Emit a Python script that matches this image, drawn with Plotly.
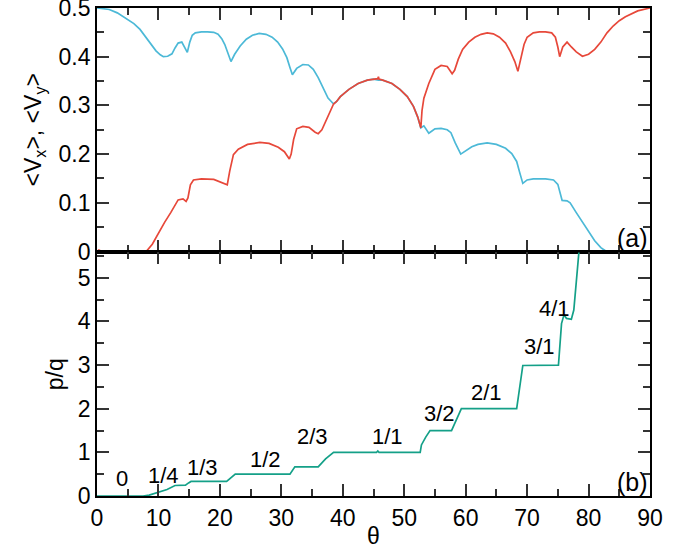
import plotly.graph_objects as go
from plotly.subplots import make_subplots

# ---- data ----
vy_theta = [0, 2, 3.3, 4.5, 6, 7, 8, 8.8, 9.6, 10.3, 10.8, 11.5, 12.2, 12.7, 13.2, 13.8, 14.4, 14.7,
            15.1, 15.5, 16, 17, 18, 19, 19.7, 20.3, 20.8, 21.3, 21.8, 22.4, 23.3, 24.3, 25.3, 26.4,
            27.5, 28.5, 29.4, 30.2, 30.9, 31.4, 31.8, 32.5, 33.5, 34.4, 35.2, 36, 36.8, 37.6, 38.5,
            39.0, 39.6, 41, 42.5, 44, 45, 45.8, 46.5, 48, 49.3, 50.5, 51.5, 52.2, 52.7,
            53.2, 54, 55, 56, 57, 57.6, 58.3, 59.2, 60, 61, 62, 63.5, 65, 66.5, 67.5, 68.3, 68.8,
            69.3, 70, 71, 73, 74.3, 75, 75.4, 75.7, 76.5, 77, 78, 79, 80, 81, 82, 82.8, 83.5, 90]
vy_vals = [0.500, 0.497, 0.490, 0.481, 0.468, 0.456, 0.440, 0.425, 0.412, 0.404, 0.400, 0.401, 0.406,
           0.418, 0.428, 0.430, 0.415, 0.409, 0.430, 0.444, 0.449, 0.451, 0.451, 0.450, 0.446, 0.437,
           0.425, 0.408, 0.390, 0.405, 0.422, 0.436, 0.444, 0.448, 0.446, 0.440, 0.430, 0.416, 0.398,
           0.378, 0.363, 0.376, 0.384, 0.383, 0.374, 0.357, 0.335, 0.315, 0.303,
           0.308, 0.318, 0.333, 0.345, 0.352, 0.354, 0.352, 0.352, 0.345, 0.333, 0.318, 0.298, 0.276,
           0.254, 0.258, 0.243, 0.252, 0.253, 0.250, 0.244, 0.223, 0.200, 0.207, 0.215, 0.220, 0.223,
           0.220, 0.212, 0.201, 0.185, 0.162, 0.140, 0.147, 0.149, 0.149, 0.147, 0.138, 0.120, 0.105,
           0.104, 0.100, 0.080, 0.060, 0.040, 0.022, 0.008, 0.001, 0.0, 0.0]

vx_theta = [0, 0.3, 0.8, 8, 9, 10, 11, 12, 12.7, 13.2, 14, 14.5, 14.8, 15.2, 15.7, 17, 19, 20.5, 21.2,
            21.6, 22.2, 23, 24.5, 26.5, 28, 29.5, 30.5, 31.3, 31.6, 32, 32.5, 33.5, 34.5, 35.5, 36,
            36.6, 37.3, 38, 38.5, 39.0, 39.6, 41, 42.5, 44, 45, 45.7, 45.8, 45.9, 46.5, 48, 49.3, 50.5,
            51.5, 52.2, 52.7, 52.9, 53.2, 54, 55, 56, 57, 57.8, 58.2, 58.8, 59.5, 60.5, 61.5, 62.5,
            63.5, 64.5, 65.5, 66.5, 67.3, 68, 68.5, 69, 69.5, 70, 71, 72, 73, 74, 74.6, 75, 75.3, 75.8,
            76.5, 77.2, 78, 79, 80, 81, 82, 83, 84, 85, 86, 88, 90]
vx_vals = [0.0, 0.003, 0.0, 0.0, 0.015, 0.038, 0.060, 0.080, 0.097, 0.106, 0.108, 0.103, 0.110, 0.137,
           0.147, 0.149, 0.148, 0.140, 0.137, 0.165, 0.199, 0.210, 0.220, 0.224, 0.222, 0.214, 0.205,
           0.190, 0.200, 0.230, 0.252, 0.257, 0.255, 0.245, 0.242, 0.250, 0.270, 0.290, 0.303,
           0.308, 0.318, 0.333, 0.345, 0.352, 0.354, 0.355, 0.359, 0.354, 0.352, 0.345, 0.333, 0.318,
           0.298, 0.276, 0.254, 0.290, 0.315, 0.345, 0.374, 0.382, 0.380, 0.365, 0.372, 0.395, 0.415,
           0.430, 0.440, 0.446, 0.449, 0.447, 0.440, 0.428, 0.410, 0.390, 0.370, 0.400, 0.425, 0.440,
           0.449, 0.451, 0.451, 0.449, 0.440, 0.420, 0.400, 0.420, 0.430, 0.420, 0.410, 0.401, 0.405,
           0.415, 0.430, 0.449, 0.463, 0.474, 0.482, 0.494, 0.500]

pq_theta = [0, 7.5, 8.5, 10, 11.4, 12.7, 13.5, 14.4, 14.9, 15.3, 21.1, 21.6, 22.5, 31.4, 31.9, 32.2,
            36.0, 37.2, 38.5, 45.5, 45.7, 45.9, 52.6, 52.8, 53.5, 54.2, 57.7, 58.5, 59.3, 68.3,
            68.8, 69.3, 75.1, 75.3, 75.6, 76.0, 76.4, 77.2, 77.6, 78.0, 78.5]
pq_vals = [0.0, 0.0, 0.02, 0.08, 0.15, 0.24, 0.25, 0.25, 0.30, 0.333, 0.333, 0.40, 0.50, 0.50, 0.60,
           0.667, 0.667, 0.85, 1.0, 1.0, 1.03, 1.0, 1.0, 1.17, 1.35, 1.50, 1.50, 1.74, 2.0, 2.0,
           2.55, 2.99, 3.0, 3.5, 3.95, 4.15, 4.07, 4.05, 4.26, 4.9, 5.7]

pq_labels = ["0", "1/4", "1/3", "1/2", "2/3", "1/1", "3/2", "2/1", "3/1", "4/1"]
pq_label_theta = [4.1, 10.8, 17.2, 27.4, 35.0, 47.2, 55.7, 63.4, 72.0, 74.5]
pq_label_y = [0.40, 0.48, 0.66, 0.84, 1.37, 1.36, 1.89, 2.36, 3.43, 4.30]

x_ticks = [0, 10, 20, 30, 40, 50, 60, 70, 80, 90]
top_ticks = [0, 0.1, 0.2, 0.3, 0.4, 0.5]
top_tick_text = ["0", "0.1", "0.2", "0.3", "0.4", "0.5"]
bot_ticks = [0, 1, 2, 3, 4, 5]

BLUE = "#4cb9d7"
RED = "#e7483a"
TEAL = "#14a088"
FONT = "Liberation Sans, Arial, Helvetica, sans-serif"
FS = 23
LW = 1.8
PLOT_H = 488.0

fig = make_subplots(rows=2, cols=1, shared_xaxes=False, vertical_spacing=0.0)

fig.add_trace(go.Scatter(x=vy_theta, y=vy_vals, mode="lines",
                         line=dict(color=BLUE, width=1.7), showlegend=False), row=1, col=1)
fig.add_trace(go.Scatter(x=vx_theta, y=vx_vals, mode="lines",
                         line=dict(color=RED, width=1.7), showlegend=False), row=1, col=1)
fig.add_trace(go.Scatter(x=pq_theta, y=pq_vals, mode="lines",
                         line=dict(color=TEAL, width=1.7), showlegend=False), row=2, col=1)

for t, xv, yv in zip(pq_labels, pq_label_theta, pq_label_y):
    fig.add_annotation(x=xv, y=yv, xref="x2", yref="y2", text=t, showarrow=False,
                       font=dict(family=FONT, size=22, color="black"),
                       xanchor="center", yanchor="middle")

fig.add_annotation(x=1, y=0, xref="x domain", yref="y domain", text="(a)", showarrow=False,
                   font=dict(family=FONT, size=25, color="black"), xanchor="right", yanchor="bottom",
                   xshift=0, yshift=-2)
fig.add_annotation(x=1, y=0, xref="x2 domain", yref="y2 domain", text="(b)", showarrow=False,
                   font=dict(family=FONT, size=25, color="black"), xanchor="right", yanchor="bottom",
                   xshift=0, yshift=-2)

axis_common = dict(showline=True, linecolor="black", linewidth=LW, mirror="ticks",
                   ticks="inside", ticklen=12, tickwidth=1.5, tickcolor="#333",
                   showgrid=False, zeroline=False, ticklabeloverflow="allow",
                   tickfont=dict(family=FONT, size=FS, color="black"))

q = LW / 4.0 / PLOT_H
fig.update_xaxes(range=[0, 90], tickvals=x_ticks, showticklabels=False,
                 minor=dict(dtick=5, tick0=0, ticks="inside", ticklen=7, tickwidth=1.5, tickcolor="#333"),
                 **axis_common, row=1, col=1)
fig.update_xaxes(range=[0, 90], tickvals=x_ticks,
                 minor=dict(dtick=5, tick0=0, ticks="inside", ticklen=7, tickwidth=1.5, tickcolor="#333"),
                 title=dict(text="θ", font=dict(family=FONT, size=FS, color="black"), standoff=2),
                 **axis_common, row=2, col=1)
fig.update_yaxes(range=[0, 0.5], tickvals=top_ticks, ticktext=top_tick_text,
                 domain=[0.5 + q, 1.0],
                 minor=dict(dtick=0.05, tick0=0, ticks="inside", ticklen=7, tickwidth=1.5, tickcolor="#333"),
                 title=dict(text="&lt;V<sub>x</sub>&gt;, &lt;V<sub>y</sub>&gt;",
                            font=dict(family=FONT, size=FS, color="black"), standoff=10),
                 **axis_common, row=1, col=1)
fig.update_yaxes(range=[0, 5.58], tickvals=bot_ticks, domain=[0.0, 0.5 - q],
                 minor=dict(dtick=0.5, tick0=0, ticks="inside", ticklen=7, tickwidth=1.5, tickcolor="#333"),
                 title=dict(text="p/q", font=dict(family=FONT, size=FS, color="black"), standoff=8),
                 **axis_common, row=2, col=1)

fig.update_layout(width=688, height=549, margin=dict(l=97, r=38, t=8, b=53, autoexpand=False),
                  plot_bgcolor="white", paper_bgcolor="white")

fig.write_html("out.html")
